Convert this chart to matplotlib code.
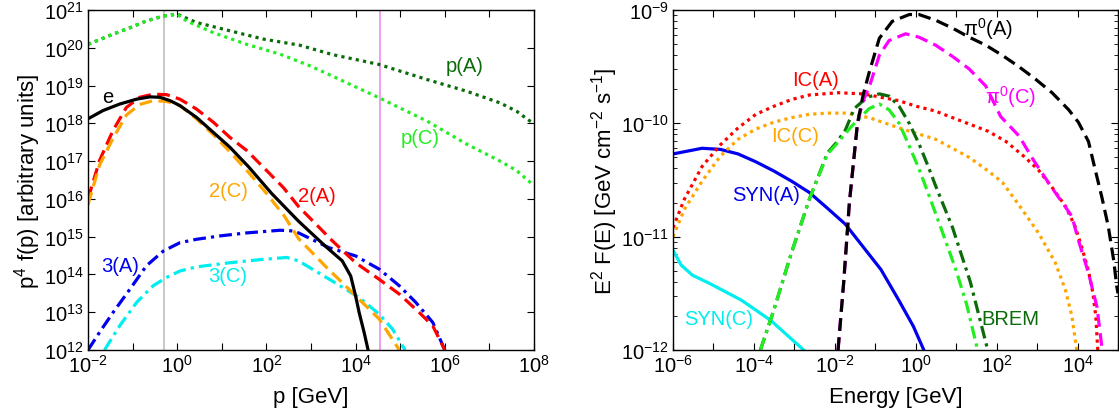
import matplotlib
matplotlib.use('Agg')
import matplotlib.pyplot as plt
import matplotlib.ticker as mticker
import numpy as np

plt.rcParams['font.family'] = ['Liberation Sans', 'DejaVu Sans']
plt.rcParams['mathtext.default'] = 'regular'
plt.rcParams['font.size'] = 14.5

# ---- left panel: particle spectra (log10 p [GeV], log10 p^4 f(p)) ----
pA_x = [-2, -1.44, -1.06, -0.69, -0.31, 0.0, 0.43, 1.18, 1.93, 2.74, 3.48, 4.52, 5.6, 6.49, 7.24, 7.61, 7.91, 8.0]
pA_y = [20.09, 20.36, 20.53, 20.71, 20.84, 20.89, 20.67, 20.45, 20.23, 20.07, 19.82, 19.56, 19.16, 18.85, 18.54, 18.32, 18.06, 18.0]
pC_x = [-2, -1.44, -1.06, -0.69, -0.31, 0.0, 0.21, 0.81, 1.56, 2.31, 2.98, 3.48, 4.52, 5.6, 6.49, 7.24, 7.61, 8.0]
pC_y = [20.09, 20.36, 20.53, 20.71, 20.84, 20.89, 20.71, 20.40, 20.09, 19.83, 19.52, 19.25, 18.68, 18.06, 17.45, 17.0, 16.75, 16.35]
e_x = [-2, -1.66, -1.29, -0.91, -0.61, -0.39, -0.16, 0.06, 0.43, 0.81, 1.18, 1.6, 2.12, 2.72, 3.32, 3.7, 3.89, 4.0, 4.08, 4.19, 4.28]
e_y = [18.12, 18.34, 18.51, 18.64, 18.70, 18.69, 18.60, 18.47, 18.16, 17.76, 17.37, 16.85, 16.14, 15.41, 14.75, 14.36, 13.96, 13.43, 12.99, 12.47, 12.0]
s2A_x = [-2, -1.74, -1.44, -1.14, -0.84, -0.54, -0.24, 0.06, 0.43, 0.81, 1.18, 1.56, 1.93, 2.38, 2.72, 3.47, 4.0, 4.53, 4.98, 5.43, 5.73, 6.0]
s2A_y = [16.0, 17.02, 17.81, 18.42, 18.69, 18.77, 18.76, 18.64, 18.38, 18.03, 17.63, 17.28, 16.84, 16.3, 15.8, 14.9, 14.31, 13.87, 13.48, 12.99, 12.64, 12.0]
s2C_x = [-2, -1.74, -1.44, -1.14, -0.84, -0.54, -0.24, 0.06, 0.43, 0.81, 1.18, 1.6, 2.0, 2.4, 2.72, 3.32, 3.85, 4.15, 4.53, 4.98]
s2C_y = [15.85, 16.9, 17.6, 18.22, 18.5, 18.6, 18.58, 18.47, 18.12, 17.7, 17.25, 16.7, 16.15, 15.55, 14.95, 14.22, 13.61, 13.26, 12.82, 12.0]
s3A_x = [-2, -1.74, -1.44, -1.06, -0.69, -0.31, 0.06, 0.43, 0.96, 1.56, 2.31, 2.61, 2.72, 3.4, 4.0, 4.53, 4.98, 5.35, 5.73, 6.0]
s3A_y = [12.0, 12.47, 12.99, 13.61, 14.23, 14.62, 14.84, 14.93, 15.02, 15.1, 15.17, 15.15, 15.1, 14.71, 14.49, 14.14, 13.7, 13.26, 12.73, 12.0]
s3C_x = [-1.63, -1.29, -0.91, -0.54, -0.24, 0.06, 0.43, 1.18, 1.93, 2.46, 2.72, 3.47, 4.08, 4.53, 4.83, 5.11]
s3C_y = [12.0, 12.64, 13.26, 13.7, 13.92, 14.09, 14.2, 14.31, 14.4, 14.45, 14.36, 13.83, 13.39, 12.95, 12.55, 12.0]
vline_gray = 0.5
vline_violet = 3.5e4

# ---- right panel: photon SED (log10 E [GeV], log10 E^2 F(E)) ----
synA_x = [-6, -5.28, -4.83, -4.39, -3.95, -3.51, -3.07, -2.63, -2.18, -1.74, -1.30, -0.86, -0.42, -0.06, 0.2]
synA_y = [-10.27, -10.22, -10.23, -10.27, -10.34, -10.42, -10.51, -10.61, -10.75, -10.89, -11.09, -11.29, -11.56, -11.79, -12.0]
synC_x = [-6, -5.8, -5.52, -5.11, -4.31, -3.58, -2.77]
synC_y = [-11.12, -11.25, -11.34, -11.41, -11.56, -11.74, -12.0]
icA_x = [-6, -5.72, -5.28, -4.83, -4.39, -3.95, -3.51, -3.07, -2.63, -1.92, -1.30, -0.86, -0.42, 0.02, 0.47, 0.91, 1.35, 1.79, 2.23, 2.67, 3.03, 3.38, 3.7, 3.94, 4.11, 4.27, 4.38, 4.45, 4.5]
icA_y = [-10.92, -10.67, -10.38, -10.19, -10.04, -9.92, -9.85, -9.79, -9.75, -9.73, -9.74, -9.77, -9.80, -9.85, -9.89, -9.95, -10.01, -10.07, -10.16, -10.29, -10.41, -10.57, -10.73, -10.91, -11.1, -11.3, -11.5, -11.7, -12.0]
icC_x = [-6, -5.72, -5.28, -4.83, -4.39, -3.95, -3.51, -3.07, -2.63, -2.18, -1.74, -1.15, -0.33, 0.49, 1.32, 1.79, 2.14, 2.55, 3.04, 3.45, 3.7, 3.86, 3.98]
icC_y = [-11.0, -10.76, -10.51, -10.29, -10.14, -10.05, -9.99, -9.95, -9.92, -9.91, -9.91, -9.95, -10.05, -10.14, -10.3, -10.42, -10.52, -10.72, -10.97, -11.23, -11.47, -11.7, -12.0]
bremA_x = [-3.84, -3.51, -3.07, -2.63, -2.18, -1.96, -1.74, -1.52, -1.2, -0.9, -0.66, -0.41, -0.16, 0.08, 0.33, 0.49, 0.91, 1.35, 1.78]
bremA_y = [-12.0, -11.65, -11.14, -10.67, -10.26, -10.17, -10.06, -9.87, -9.77, -9.74, -9.76, -9.85, -10.0, -10.18, -10.4, -10.55, -10.92, -11.4, -12.0]
bremC_x = [-3.84, -3.51, -3.07, -2.63, -2.18, -2.0, -1.57, -1.15, -0.9, -0.66, -0.41, -0.16, 0.08, 0.29, 0.6, 1.0, 1.26, 1.53]
bremC_y = [-12.0, -11.65, -11.14, -10.67, -10.27, -10.2, -10.02, -9.87, -9.83, -9.88, -10.0, -10.2, -10.4, -10.6, -10.9, -11.3, -11.6, -12.0]
pi0A_x = [-1.92, -1.78, -1.64, -1.44, -1.3, -1.15, -0.9, -0.58, -0.16, 0.08, 0.49, 0.91, 1.32, 1.73, 2.14, 2.55, 2.96, 3.37, 3.78, 4.02, 4.27, 4.43, 4.6, 4.76, 4.89, 4.97, 5.0]
pi0A_y = [-12.0, -11.4, -10.7, -10.0, -9.75, -9.55, -9.25, -9.1, -9.04, -9.04, -9.09, -9.16, -9.24, -9.31, -9.4, -9.5, -9.61, -9.73, -9.88, -9.99, -10.16, -10.4, -10.65, -10.91, -11.2, -11.44, -11.5]
pi0C_x = [-1.92, -1.78, -1.64, -1.44, -1.3, -1.15, -0.9, -0.66, -0.25, 0.08, 0.49, 0.91, 1.32, 1.73, 2.1, 2.55, 2.92, 3.33, 3.86, 4.02, 4.27, 4.48, 4.6]
pi0C_y = [-12.0, -11.4, -10.7, -10.0, -9.8, -9.68, -9.4, -9.27, -9.21, -9.24, -9.31, -9.41, -9.52, -9.67, -9.94, -10.11, -10.33, -10.55, -10.82, -11.03, -11.32, -11.62, -11.97]

green_dk = '#0b6b0b'
green_lt = '#22ee22'
dot = (0, (1, 1.3))
dash = (0, (4, 2))
dashdot = (0, (4, 1.6, 1, 1.6))
lw = 2.3

fig = plt.figure(figsize=(11.19, 4.14), dpi=100)
ax1 = fig.add_axes([88 / 1119, 63 / 414, 446 / 1119, 340 / 414])
ax2 = fig.add_axes([673 / 1119, 63 / 414, 445 / 1119, 340 / 414])


def P(xs, ys):
    return 10 ** np.array(xs), 10 ** np.array(ys)


# left panel
ax1.axvline(vline_gray, color='#bbbbbb', lw=1.1)
ax1.axvline(vline_violet, color='#ee82ee', lw=1.1)
ax1.plot(*P(pA_x, pA_y), color=green_dk, ls=dot, lw=lw)
ax1.plot(*P(pC_x, pC_y), color=green_lt, ls=dot, lw=lw)
ax1.plot(*P(s3A_x, s3A_y), color='#0000ee', ls=dashdot, lw=lw)
ax1.plot(*P(s3C_x, s3C_y), color='#00eeee', ls=dashdot, lw=lw)
ax1.plot(*P(s2A_x, s2A_y), color='#ff0000', ls=dash, lw=lw)
ax1.plot(*P(s2C_x, s2C_y), color='#ffa500', ls=dash, lw=lw)
ax1.plot(*P(e_x, e_y), color='black', ls='-', lw=lw)

ax1.text(10 ** 6.44, 10 ** 19.54, 'p(A)', color=green_dk, ha='center', va='center')
ax1.text(10 ** 5.44, 10 ** 17.63, 'p(C)', color=green_lt, ha='center', va='center')
ax1.text(10 ** -1.56, 10 ** 18.71, 'e', color='black', ha='center', va='center')
ax1.text(10 ** 1.14, 10 ** 16.21, '2(C)', color='#ffa500', ha='center', va='center')
ax1.text(10 ** 3.14, 10 ** 16.1, '2(A)', color='#ff0000', ha='center', va='center')
ax1.text(10 ** -1.28, 10 ** 14.24, '3(A)', color='#0000ee', ha='center', va='center')
ax1.text(10 ** 1.14, 10 ** 13.97, '3(C)', color='#00eeee', ha='center', va='center')

ax1.set_xscale('log')
ax1.set_yscale('log')
ax1.set_xlim(1e-2, 1e8)
ax1.set_ylim(1e12, 1e21)
ax1.set_xlabel('p [GeV]', fontsize=16, labelpad=7)
ax1.set_ylabel('p$^4$ f(p) [arbitrary units]', fontsize=16, labelpad=1)
ax1.xaxis.set_major_locator(mticker.FixedLocator(10.0 ** np.arange(-2, 9)))
ax1.xaxis.set_major_formatter(mticker.FuncFormatter(
    lambda v, _: '$10^{%d}$' % round(np.log10(v)) if round(np.log10(v)) % 2 == 0 else ''))
ax1.yaxis.set_major_locator(mticker.FixedLocator(10.0 ** np.arange(12, 22)))
ax1.yaxis.set_major_formatter(mticker.FuncFormatter(lambda v, _: '$10^{%d}$' % round(np.log10(v))))
ax1.xaxis.set_minor_locator(mticker.NullLocator())
ax1.yaxis.set_minor_locator(mticker.NullLocator())

# right panel
ax2.plot(*P(synA_x, synA_y), color='#0000ee', ls='-', lw=lw)
ax2.plot(*P(synC_x, synC_y), color='#00eeee', ls='-', lw=lw)
ax2.plot(*P(icA_x, icA_y), color='#ff0000', ls=dot, lw=lw)
ax2.plot(*P(icC_x, icC_y), color='#ffa500', ls=dot, lw=lw)
ax2.plot(*P(bremA_x, bremA_y), color=green_dk, ls=dashdot, lw=lw)
ax2.plot(*P(bremC_x, bremC_y), color=green_lt, ls=dashdot, lw=lw)
ax2.plot(*P(pi0C_x, pi0C_y), color='#ff00ff', ls=dash, lw=lw)
ax2.plot(*P(pi0A_x, pi0A_y), color='black', ls=dash, lw=lw)

ax2.text(10 ** 1.79, 10 ** -9.16, '$\\pi^0$(A)', color='black', ha='center', va='center')
ax2.text(10 ** 2.34, 10 ** -9.76, '$\\pi^0$(C)', color='#ff00ff', ha='center', va='center')
ax2.text(10 ** -2.47, 10 ** -9.61, 'IC(A)', color='#ff0000', ha='center', va='center')
ax2.text(10 ** -2.98, 10 ** -10.11, 'IC(C)', color='#ffa500', ha='center', va='center')
ax2.text(10 ** -3.7, 10 ** -10.63, 'SYN(A)', color='#0000ee', ha='center', va='center')
ax2.text(10 ** -4.88, 10 ** -11.72, 'SYN(C)', color='#00eeee', ha='center', va='center')
ax2.text(10 ** 2.34, 10 ** -11.72, 'BREM', color=green_dk, ha='center', va='center')

ax2.set_xscale('log')
ax2.set_yscale('log')
ax2.set_xlim(1e-6, 1e5)
ax2.set_ylim(1e-12, 1e-9)
ax2.set_xlabel('Energy [GeV]', fontsize=16, labelpad=7)
ax2.set_ylabel('E$^2$ F(E) [GeV cm$^{-2}$ s$^{-1}$]', fontsize=16, labelpad=1)
ax2.xaxis.set_major_locator(mticker.FixedLocator(10.0 ** np.arange(-6, 6)))
ax2.xaxis.set_major_formatter(mticker.FuncFormatter(
    lambda v, _: '$10^{%d}$' % round(np.log10(v)) if round(np.log10(v)) % 2 == 0 and v < 1e5 else ''))
ax2.xaxis.set_minor_locator(mticker.NullLocator())
ax2.yaxis.set_major_locator(mticker.FixedLocator(10.0 ** np.arange(-12, -8)))
ax2.yaxis.set_major_formatter(mticker.FuncFormatter(lambda v, _: '$10^{%d}$' % round(np.log10(v))))
ax2.yaxis.set_minor_locator(mticker.LogLocator(base=10, subs=np.arange(2, 10)))
ax2.yaxis.set_minor_formatter(mticker.NullFormatter())

for ax in (ax1, ax2):
    ax.tick_params(which='both', direction='in', top=True, right=True, labelsize=14.5, pad=3)
    ax.tick_params(which='major', length=5, width=0.8)
    ax.tick_params(which='minor', length=3, width=0.6)
    for s in ax.spines.values():
        s.set_linewidth(1.0)

fig.savefig('out.png', dpi=100)
